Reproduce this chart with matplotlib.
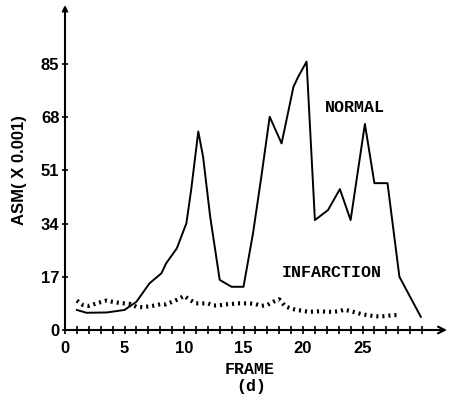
import matplotlib
matplotlib.use('Agg')
import matplotlib.pyplot as plt

# datos (d)
normal_frame = [1.0, 1.8, 3.5, 5.0, 6.0, 7.1, 8.1, 8.5, 9.4, 10.2, 10.6, 11.2, 11.6, 12.2,
                13.0, 14.0, 15.0, 15.8, 16.5, 17.2, 18.2, 19.2, 19.6, 20.3, 21.0, 22.1,
                23.1, 24.0, 25.2, 26.0, 27.1, 28.1, 29.9]
normal_asm = [6.4, 5.5, 5.6, 6.4, 9.0, 14.9, 18.1, 21.3, 26.1, 34.1, 44.7, 63.4, 55.4, 36.2,
              16.0, 13.8, 13.8, 30.9, 49.0, 68.1, 59.6, 77.7, 80.9, 85.7, 35.1, 38.3,
              45.0, 35.1, 65.8, 46.9, 46.9, 17.0, 4.2]

infarto_frame = [1.0, 1.5, 2.0, 2.5, 3.0, 3.5, 4.0, 4.5, 5.0, 5.5, 6.0, 6.5, 7.0, 7.5,
                 8.0, 8.5, 9.0, 9.5, 10.0, 10.5, 11.0, 11.5, 12.0, 12.5, 13.0, 13.5,
                 14.0, 14.5, 15.0, 15.5, 16.0, 16.5, 17.0, 17.5, 18.0, 18.5, 19.0, 19.5,
                 20.0, 20.5, 21.0, 21.5, 22.0, 22.5, 23.0, 23.5, 24.0, 24.5, 25.0, 25.5,
                 26.0, 26.5, 27.0, 27.5, 28.0]
infarto_asm = [9.4, 8.0, 7.7, 8.3, 8.9, 9.4, 9.0, 8.7, 8.5, 8.3, 7.4, 7.3, 7.5, 7.8,
               8.2, 8.2, 9.0, 9.8, 10.9, 9.6, 8.5, 8.5, 8.5, 7.8, 7.9, 8.2,
               8.3, 8.5, 8.5, 8.5, 8.3, 7.7, 8.0, 9.0, 9.8, 7.6, 6.8, 6.4,
               6.1, 5.8, 5.9, 6.0, 5.8, 5.8, 6.0, 6.5, 6.0, 5.5, 5.0, 4.7,
               4.4, 4.3, 4.5, 4.7, 4.8]

xticks = [0, 5, 10, 15, 20, 25]
yticks = [0, 17, 34, 51, 68, 85]

num_font = {'family': 'Liberation Sans', 'weight': 'bold', 'size': 12}
mono_font = {'family': 'Liberation Mono', 'weight': 'bold', 'size': 12}

fig = plt.figure(figsize=(4.52, 3.99), dpi=100)
ax = fig.add_axes([65 / 452, 69 / 399, 382 / 452, 325 / 399])

ax.plot(normal_frame, normal_asm, color='black', lw=1.4)
ax.plot(infarto_frame, infarto_asm, color='black', lw=3.0,
        dashes=(0.5, 0.95), dash_capstyle='butt')

ax.set_xlim(0, 32.1)
ax.set_ylim(0, 103.8)

for s in ax.spines.values():
    s.set_visible(False)
ax.annotate('', xy=(1, 0), xytext=(0, 0), xycoords='axes fraction',
            arrowprops=dict(arrowstyle='->', color='black', lw=1.5,
                            shrinkA=0, shrinkB=0, mutation_scale=12))
ax.annotate('', xy=(0, 1), xytext=(0, 0), xycoords='axes fraction',
            arrowprops=dict(arrowstyle='->', color='black', lw=1.5,
                            shrinkA=0, shrinkB=0, mutation_scale=8))

ax.set_xticks(xticks)
ax.set_xticks(range(1, 31), minor=True)
ax.set_yticks(yticks)
ax.tick_params(axis='x', which='both', direction='inout', length=6, width=1.2, pad=5)
ax.tick_params(axis='y', which='both', direction='inout', length=4, width=1.2, pad=2)
ax.set_xticklabels([str(t) for t in xticks], fontdict=num_font)
ax.set_yticklabels([str(t) for t in yticks], fontdict=num_font)

ax.text(24.4, 71.2, 'NORMAL', ha='center', va='center', fontdict=mono_font)
ax.text(22.4, 18.5, 'INFARCTION', ha='center', va='center', fontdict=mono_font)

fig.text(250 / 452, 1 - 369 / 399, 'FRAME', ha='center', va='center', fontdict=mono_font)
fig.text(251 / 452, 1 - 386 / 399, '(d)', ha='center', va='center', fontdict=mono_font)
fig.text(20 / 452, 1 - 170 / 399, 'ASM( X 0.001)', ha='center', va='center',
         rotation=90, fontdict=num_font)

fig.savefig('out.png', dpi=100)
